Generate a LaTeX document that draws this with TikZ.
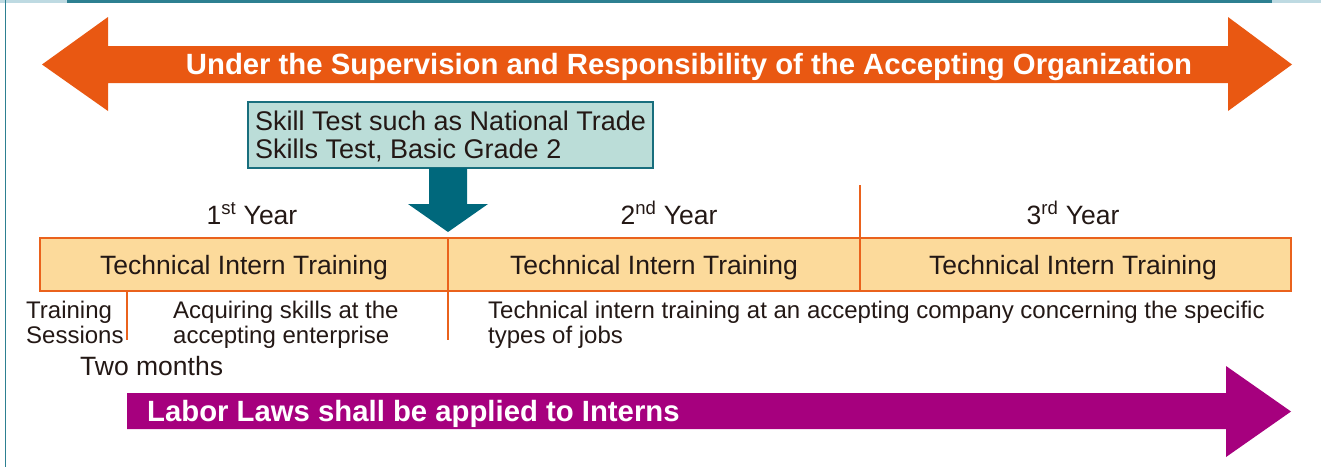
\documentclass[tikz,border=0pt]{standalone}
\usepackage{fontspec}
\setmainfont{Liberation Sans}
\definecolor{orangearrow}{RGB}{233,88,18}
\definecolor{tlfill}{RGB}{252,218,155}
\definecolor{tlline}{RGB}{234,98,28}
\definecolor{skillfill}{RGB}{187,221,216}
\definecolor{skillline}{RGB}{24,110,125}
\definecolor{tealarrow}{RGB}{0,104,124}
\definecolor{magenta}{RGB}{166,0,126}
\definecolor{ink}{RGB}{35,24,21}
\definecolor{frameteal}{RGB}{45,128,145}
\definecolor{framelight}{RGB}{190,218,226}
\begin{document}
\begin{tikzpicture}[x=1pt,y=-1pt,
  txt/.style={inner sep=0pt, text=ink, font=\fontsize{26.5}{24}\selectfont},
  smalltxt/.style={inner sep=0pt, text=ink, font=\fontsize{24}{24}\selectfont},
  boldtxt/.style={inner sep=0pt, text=white, font=\fontsize{29.3}{30}\selectfont\bfseries},
  divider/.style={draw=tlline, line width=1.5pt}]
\useasboundingbox (0,0) rectangle (1321,467);
% frame
\fill[framelight] (0,0) rectangle (67,2.5);
\fill[frameteal] (67,0) rectangle (1272,2.5);
\fill[framelight] (1272,0) rectangle (1321,2.5);
\draw[frameteal, line width=1.5pt] (5.5,0) -- (5.5,467);
% orange double arrow
\fill[orangearrow] (42,64.5) -- (108,17) -- (108,46) -- (1228,46) -- (1228,17) -- (1292,64.5)
  -- (1228,111) -- (1228,83) -- (108,83) -- (108,111) -- cycle;
\node[boldtxt, anchor=base] (sup) at (689,74) {Under the Supervision and Responsibility of the Accepting Organization};
% skill test box
\node[draw=skillline, fill=skillfill, line width=1.8pt, minimum width=405pt, minimum height=66pt, inner sep=0pt] (skill) at (450.5,135) {};
\node[txt, anchor=base west, font=\fontsize{27}{28}\selectfont] (skill1) at (255,130) {Skill Test such as National Trade};
\node[txt, anchor=base west, font=\fontsize{27}{28}\selectfont] (skill2) at (255,158) {Skills Test, Basic Grade 2};
% teal arrow
\coordinate (tip) at (448,232);
\fill[tealarrow] (429,168) -- (429,204) -- (408,204) -- (tip) -- (488,204) -- (467,204) -- (467,168) -- cycle;
% timeline
\node[draw=tlline, fill=tlfill, line width=1.5pt, minimum width=1251pt, minimum height=53pt, inner sep=0pt] (tl) at (665.5,264.5) {};
\coordinate (d1top) at (448,238);
\coordinate (d1bot) at (448,340);
\coordinate (d2top) at (860,185);
\coordinate (d2bot) at (860,291);
\coordinate (d0top) at (127,291);
\coordinate (d0bot) at (127,340);
\draw[divider] (d1top) -- (d1bot);
\draw[divider] (d2top) -- (d2bot);
\draw[divider] (d0top) -- (d0bot);
% years
\node[txt, anchor=base] (y1) at (252,224) {1\textsuperscript{st} Year};
\node[txt, anchor=base] (y2) at (669,224) {2\textsuperscript{nd} Year};
\node[txt, anchor=base] (y3) at (1073,224) {3\textsuperscript{rd} Year};
\node[txt, anchor=base] (t1) at (244,274) {Technical Intern Training};
\node[txt, anchor=base] (t2) at (654,274) {Technical Intern Training};
\node[txt, anchor=base] (t3) at (1073,274) {Technical Intern Training};
% below texts
\node[smalltxt, anchor=base west] (ts1) at (26,318) {Training};
\node[smalltxt, anchor=base west] (ts2) at (26,343) {Sessions};
\node[smalltxt, anchor=base west] (aq1) at (173,318) {Acquiring skills at the};
\node[smalltxt, anchor=base west] (aq2) at (173,343) {accepting enterprise};
\node[smalltxt, anchor=base west] (ti1) at (488,318) {Technical intern training at an accepting company concerning the specific};
\node[smalltxt, anchor=base west] (ti2) at (488,343) {types of jobs};
\node[txt, anchor=base west] (two) at (80,375) {Two months};
% magenta arrow
\fill[magenta] (127,393) -- (1226,393) -- (1226,366) -- (1291,411.5) -- (1226,457) -- (1226,429) -- (127,429) -- cycle;
\node[boldtxt, anchor=base west] (labor) at (147,421) {Labor Laws shall be applied to Interns};
\end{tikzpicture}
\end{document}
